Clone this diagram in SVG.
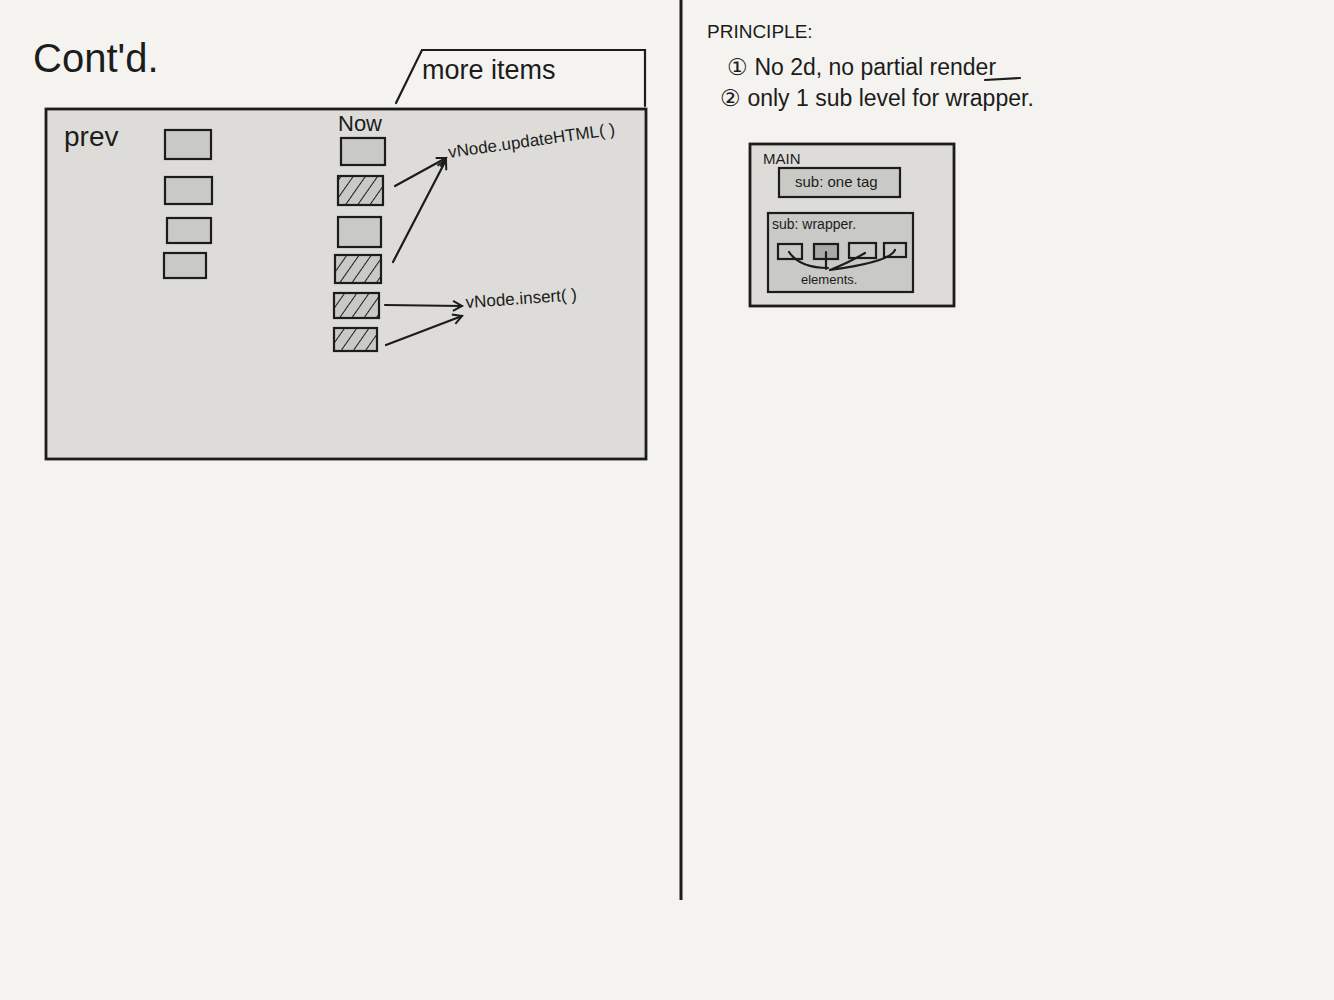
<svg xmlns="http://www.w3.org/2000/svg" width="1334" height="1000" viewBox="0 0 1334 1000">
<defs>
<style>
.t{font-family:"Liberation Sans",Arial,sans-serif;fill:#1c1c1c}
.ln{stroke:#1c1c1c;stroke-width:2.2;fill:none;stroke-linecap:round}
.box{fill:#c9c9c6;stroke:#1c1c1c;stroke-width:2.2}
.hb{fill:url(#hatch);stroke:#1c1c1c;stroke-width:2.2}
.panel{fill:#dddcd8;stroke:#1c1c1c;stroke-width:2.8}
</style>
<pattern id="hatch" patternUnits="userSpaceOnUse" width="10" height="10" patternTransform="rotate(35)">
<rect width="10" height="10" fill="#c9c9c6"/>
<line x1="0" y1="0" x2="0" y2="10" stroke="#1c1c1c" stroke-width="2"/>
</pattern>
<marker id="ah" markerWidth="12" markerHeight="12" refX="10" refY="6" orient="auto" markerUnits="userSpaceOnUse">
<path d="M1,1 L10,6 L1,11" fill="none" stroke="#1c1c1c" stroke-width="2"/>
</marker>
</defs>
<rect width="1334" height="1000" fill="#f4f3f0"/>
<text class="t" x="33" y="72" font-size="40">Cont'd.</text>
<line x1="681" y1="0" x2="681" y2="900" stroke="#1c1c1c" stroke-width="3"/>

<g id="more-items">
<path class="ln" d="M396,103 L422,50 L645,50 L645,106"/>
<text class="t" x="422" y="79" font-size="27">more items</text>
</g>

<g id="main-panel">
<rect class="panel" x="46" y="109" width="600" height="350"/>
<text class="t" x="64" y="146" font-size="28">prev</text>
<text class="t" x="338" y="131" font-size="22">Now</text>
</g>

<g id="prev-items">
<rect id="p1" class="box" x="165" y="130" width="46" height="29"/>
<rect id="p2" class="box" x="165" y="177" width="47" height="27"/>
<rect id="p3" class="box" x="167" y="218" width="44" height="25"/>
<rect id="p4" class="box" x="164" y="253" width="42" height="25"/>
</g>

<g id="now-items">
<rect id="n1" class="box" x="341" y="138" width="44" height="27"/>
<rect id="n2" class="hb" x="338" y="176" width="45" height="29"/>
<rect id="n3" class="box" x="338" y="217" width="43" height="30"/>
<rect id="n4" class="hb" x="335" y="255" width="46" height="28"/>
<rect id="n5" class="hb" x="334" y="293" width="45" height="25"/>
<rect id="n6" class="hb" x="334" y="328" width="43" height="23"/>
</g>

<g id="update-label"><text class="t" x="449" y="158" font-size="17" transform="rotate(-8 449 158)">vNode.updateHTML( )</text></g>
<g id="insert-label"><text class="t" x="466" y="308" font-size="17" transform="rotate(-4 466 308)">vNode.insert( )</text></g>

<g id="connectors">
<line class="ln" x1="395" y1="186" x2="446" y2="158" marker-end="url(#ah)"/>
<line class="ln" x1="393" y1="262" x2="446" y2="160" marker-end="url(#ah)"/>
<line class="ln" x1="385" y1="305" x2="462" y2="306" marker-end="url(#ah)"/>
<line class="ln" x1="386" y1="345" x2="462" y2="316" marker-end="url(#ah)"/>
</g>

<g id="principle">
<text class="t" x="707" y="38" font-size="19">PRINCIPLE:</text>
<text class="t" x="727" y="75" font-size="23">① No 2d, no partial render</text>
<text class="t" x="720" y="106" font-size="23">② only 1 sub level for wrapper.</text>
<line class="ln" x1="985" y1="80" x2="1020" y2="78" stroke-width="1.8"/>
</g>

<g id="main-box">
<rect class="panel" x="750" y="144" width="204" height="162" stroke-width="2.4"/>
<text class="t" x="763" y="164" font-size="15">MAIN</text>
</g>
<g id="sub-one-tag">
<rect class="box" x="779" y="168" width="121" height="29"/>
<text class="t" x="795" y="187" font-size="15">sub: one tag</text>
</g>
<g id="sub-wrapper">
<rect class="box" x="768" y="213" width="145" height="79"/>
<text class="t" x="772" y="229" font-size="14">sub: wrapper.</text>
<rect class="box" x="778" y="244" width="24" height="15"/>
<rect class="box" x="814" y="244" width="24" height="15" style="fill:#a9a9a6"/>
<rect class="box" x="849" y="243" width="27" height="15"/>
<rect class="box" x="884" y="243" width="22" height="14"/>
<path class="ln" stroke-width="1.6" d="M789,252 Q800,268 828,268 M826,252 L826,269 M865,253 Q850,262 830,270 M895,250 Q890,262 830,270"/>
<text class="t" x="801" y="284" font-size="13">elements.</text>
</g>
</svg>
